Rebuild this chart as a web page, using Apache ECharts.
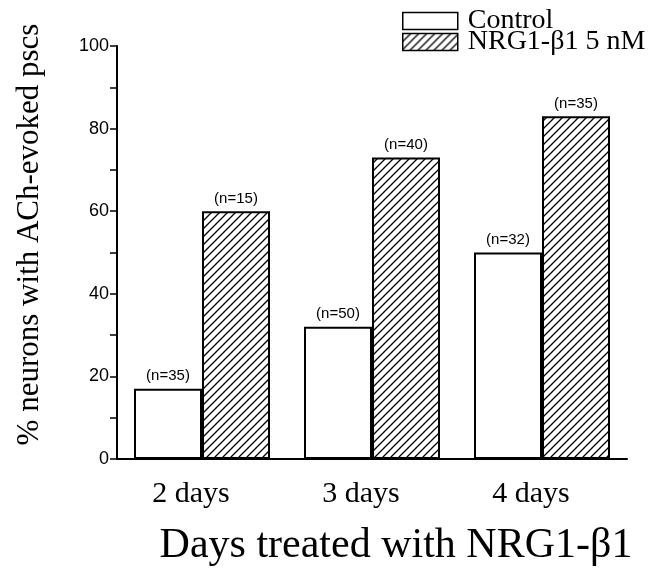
<!DOCTYPE html>
<html>
<head>
<meta charset="utf-8">
<script src="https://cdn.jsdelivr.net/npm/echarts@6/dist/echarts.min.js"></script>
<style>
  html, body { margin: 0; padding: 0; background: #fff; }
  #chart { width: 654px; height: 569px; }
</style>
</head>
<body>
<div id="chart"></div>
<script>
const categories = ["2 days", "3 days", "4 days"];
const controlValues = [17, 32, 50];
const nrgValues = [60, 73, 83];
const controlN = ["(n=35)", "(n=50)", "(n=32)"];
const nrgN = ["(n=15)", "(n=40)", "(n=35)"];
const legendNames = ["Control", "NRG1-β1 5 nM"];

// diagonal hatch pattern
const hatch = document.createElement("canvas");
hatch.width = 8;
hatch.height = 8;
const ctx = hatch.getContext("2d");
ctx.fillStyle = "#fff";
ctx.fillRect(0, 0, 8, 8);
ctx.strokeStyle = "#000";
ctx.lineWidth = 1.3;
ctx.beginPath();
ctx.moveTo(-1, 9); ctx.lineTo(9, -1);
ctx.moveTo(-1, 1); ctx.lineTo(1, -1);
ctx.moveTo(7, 9); ctx.lineTo(9, 7);
ctx.stroke();

const chart = echarts.init(document.getElementById("chart"));
const serif = "'Liberation Serif', 'DejaVu Serif', serif";
const sans = "'Liberation Sans', Arial, sans-serif";

const legendBase = {
  left: 397,
  orient: "vertical",
  icon: "rect",
  itemWidth: 55,
  itemHeight: 17,
  itemStyle: { borderWidth: 1.5 },
  textStyle: { fontFamily: serif, fontSize: 28, color: "#000", padding: [0, 0, 0, 5] }
};

chart.setOption({
  animation: false,
  grid: { left: 117, right: 27, top: 46, bottom: 110, containLabel: false, outerBoundsMode: "none" },
  legend: [
    Object.assign({}, legendBase, { top: 2, data: [legendNames[0]] }),
    Object.assign({}, legendBase, { top: 23, data: [legendNames[1]] })
  ],
  xAxis: {
    type: "category",
    data: categories,
    name: "Days treated with NRG1-β1",
    nameLocation: "middle",
    nameGap: 66,
    nameTextStyle: { fontFamily: serif, fontSize: 42, color: "#000", padding: [0, 0, 0, 48] },
    axisLine: { lineStyle: { color: "#000", width: 2 } },
    axisTick: { show: false },
    axisLabel: { fontFamily: serif, fontSize: 30, color: "#000", margin: 20, padding: [0, 22, 0, 0] }
  },
  yAxis: {
    type: "value",
    min: 0,
    max: 100,
    interval: 20,
    name: "% neurons with ACh-evoked pscs",
    nameLocation: "middle",
    nameGap: 72,
    nameTextStyle: { fontFamily: serif, fontSize: 31, color: "#000", padding: [0, 0, 0, 36] },
    axisLine: { show: true, lineStyle: { color: "#000", width: 2 } },
    axisTick: { show: true, length: 7, lineStyle: { color: "#000", width: 1.5 } },
    minorTick: { show: true, splitNumber: 2, length: 7, lineStyle: { color: "#000", width: 1.5 } },
    splitLine: { show: false },
    axisLabel: { fontFamily: sans, fontSize: 18, color: "#000", margin: 8 }
  },
  series: [
    {
      name: legendNames[0],
      type: "bar",
      data: controlValues,
      barWidth: 68,
      barGap: "0%",
      itemStyle: { color: "#fff", borderColor: "#000", borderWidth: 2 },
      label: {
        show: true,
        position: "top",
        distance: 5,
        formatter: p => controlN[p.dataIndex],
        fontFamily: sans,
        fontSize: 15,
        color: "#000"
      }
    },
    {
      name: legendNames[1],
      type: "bar",
      data: nrgValues,
      barWidth: 68,
      barGap: "0%",
      itemStyle: {
        color: { image: hatch, repeat: "repeat" },
        borderColor: "#000",
        borderWidth: 2
      },
      label: {
        show: true,
        position: "top",
        distance: 5,
        formatter: p => nrgN[p.dataIndex],
        fontFamily: sans,
        fontSize: 15,
        color: "#000"
      }
    }
  ]
});
</script>
</body>
</html>
